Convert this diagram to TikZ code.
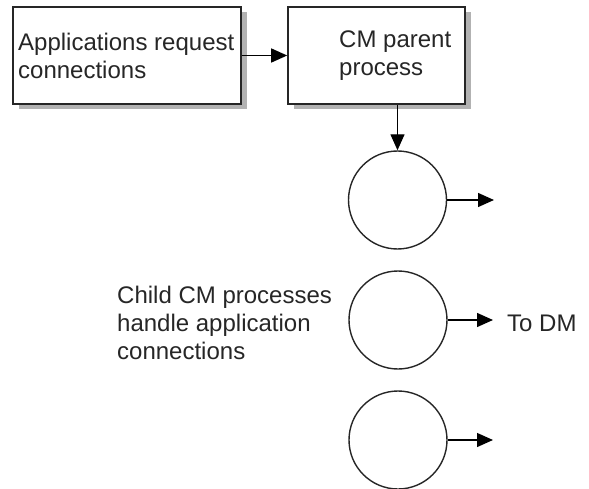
\documentclass[tikz,border=0pt]{standalone}
\usepackage{fontspec}
\setmainfont{Liberation Sans}
\usetikzlibrary{arrows.meta}
\begin{document}
\begin{tikzpicture}[x=1pt,y=-1pt,
  txt/.style={font=\fontsize{24}{28}\selectfont, text=black!85, align=left, inner sep=0pt},
  box/.style={draw=black!85, line width=1.6pt, fill=white, minimum width=#1, minimum height=97pt, inner sep=0pt},
  shadowbox/.style={fill=black!30, draw=none, minimum width=#1, minimum height=97pt, inner sep=0pt},
  proc/.style={circle, draw=black!85, line width=1.4pt, minimum size=98pt, inner sep=0pt},
  arr/.style={line width=1.3pt, draw=black, -{Triangle[length=16pt,width=14pt]}}
]
\useasboundingbox (0,0) rectangle (589,489);
% shadows
\node[shadowbox=228pt] (s1) at (133,61) {};
\node[shadowbox=177pt] (s2) at (382.5,61) {};
% boxes
\node[box=228pt] (b1) at (127,55.5) {};
\node[box=177pt] (b2) at (376.5,55.5) {};
\node[txt, anchor=west] (t1) at (18,56) {Applications request\\connections};
\node[txt, anchor=west] (t2) at (339,56) {CM parent\\process};
% circles
\node[proc] (c1) at (397.5,200) {};
\node[proc] (c2) at (398,320) {};
\node[proc] (c3) at (398,440) {};
% ends
\coordinate (e1) at (494,200);
\coordinate (e2) at (493,320);
\coordinate (e3) at (493,440);
% arrows
\draw[arr] (b1.east) -- (b2.west);
\draw[arr] (b2.south -| c1.north) -- (c1.north);
\draw[arr] (c1.east) -- (e1);
\draw[arr] (c2.east) -- (e2);
\draw[arr] (c3.east) -- (e3);
% labels
\node[txt, anchor=west] (dm) at (507,323) {To DM};
\node[txt, anchor=west] (child) at (117,323) {Child CM processes\\handle application\\connections};
\end{tikzpicture}
\end{document}
